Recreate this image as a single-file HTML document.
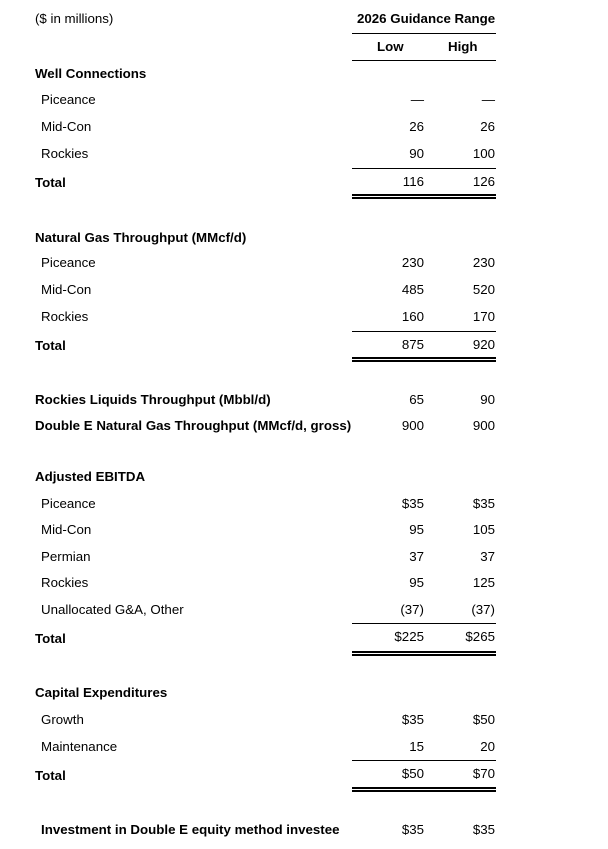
<!DOCTYPE html>
<html><head><meta charset="utf-8"><style>
body{margin:0;width:608px;height:849px;background:#fff;font-family:"Liberation Sans",Arial,sans-serif;font-size:13.3px;color:#000;position:relative;overflow:hidden}
.t{position:absolute;line-height:16px;white-space:nowrap}
.l{left:35px}.s{left:41px}.b{font-weight:bold}
.lo{right:184px;text-align:right}.hi{right:113px;text-align:right}
.ln{position:absolute;left:352px;width:144px;height:1px;background:#000}
.dl{position:absolute;left:352px;width:144px;height:2px;background:#000}
</style></head><body>
<div class="t" style="left:35px;top:11px">($ in millions)</div>
<div class="t b" style="left:357px;top:11px">2026 Guidance Range</div>
<div class="ln" style="top:33px"></div>
<div class="t b" style="left:377px;top:39px">Low</div>
<div class="t b" style="left:448px;top:39px">High</div>
<div class="ln" style="top:60px"></div>

<div class="t l b" style="top:66px">Well Connections</div>
<div class="t s" style="top:92px">Piceance</div><div class="t lo" style="top:92px">—</div><div class="t hi" style="top:92px">—</div>
<div class="t s" style="top:119px">Mid-Con</div><div class="t lo" style="top:119px">26</div><div class="t hi" style="top:119px">26</div>
<div class="t s" style="top:146px">Rockies</div><div class="t lo" style="top:146px">90</div><div class="t hi" style="top:146px">100</div>
<div class="ln" style="top:168px"></div>
<div class="t l b" style="top:175px">Total</div><div class="t lo" style="top:174px">116</div><div class="t hi" style="top:174px">126</div>
<div class="dl" style="top:194px"></div><div class="dl" style="top:197px"></div>

<div class="t l b" style="top:230px">Natural Gas Throughput (MMcf/d)</div>
<div class="t s" style="top:255px">Piceance</div><div class="t lo" style="top:255px">230</div><div class="t hi" style="top:255px">230</div>
<div class="t s" style="top:282px">Mid-Con</div><div class="t lo" style="top:282px">485</div><div class="t hi" style="top:282px">520</div>
<div class="t s" style="top:309px">Rockies</div><div class="t lo" style="top:309px">160</div><div class="t hi" style="top:309px">170</div>
<div class="ln" style="top:331px"></div>
<div class="t l b" style="top:338px">Total</div><div class="t lo" style="top:337px">875</div><div class="t hi" style="top:337px">920</div>
<div class="dl" style="top:357px"></div><div class="dl" style="top:360px"></div>

<div class="t l b" style="top:392px">Rockies Liquids Throughput (Mbbl/d)</div><div class="t lo" style="top:392px">65</div><div class="t hi" style="top:392px">90</div>
<div class="t l b" style="top:418px">Double E Natural Gas Throughput (MMcf/d, gross)</div><div class="t lo" style="top:418px">900</div><div class="t hi" style="top:418px">900</div>

<div class="t l b" style="top:469px">Adjusted EBITDA</div>
<div class="t s" style="top:496px">Piceance</div><div class="t lo" style="top:496px">$35</div><div class="t hi" style="top:496px">$35</div>
<div class="t s" style="top:522px">Mid-Con</div><div class="t lo" style="top:522px">95</div><div class="t hi" style="top:522px">105</div>
<div class="t s" style="top:549px">Permian</div><div class="t lo" style="top:549px">37</div><div class="t hi" style="top:549px">37</div>
<div class="t s" style="top:575px">Rockies</div><div class="t lo" style="top:575px">95</div><div class="t hi" style="top:575px">125</div>
<div class="t s" style="top:602px">Unallocated G&amp;A, Other</div><div class="t lo" style="top:602px">(37)</div><div class="t hi" style="top:602px">(37)</div>
<div class="ln" style="top:623px"></div>
<div class="t l b" style="top:631px">Total</div><div class="t lo" style="top:629px">$225</div><div class="t hi" style="top:629px">$265</div>
<div class="dl" style="top:651px"></div><div class="dl" style="top:654px"></div>

<div class="t l b" style="top:685px">Capital Expenditures</div>
<div class="t s" style="top:712px">Growth</div><div class="t lo" style="top:712px">$35</div><div class="t hi" style="top:712px">$50</div>
<div class="t s" style="top:739px">Maintenance</div><div class="t lo" style="top:739px">15</div><div class="t hi" style="top:739px">20</div>
<div class="ln" style="top:760px"></div>
<div class="t l b" style="top:768px">Total</div><div class="t lo" style="top:766px">$50</div><div class="t hi" style="top:766px">$70</div>
<div class="dl" style="top:787px"></div><div class="dl" style="top:790px"></div>

<div class="t b" style="left:41px;top:822px">Investment in Double E equity method investee</div><div class="t lo" style="top:822px">$35</div><div class="t hi" style="top:822px">$35</div>
</body></html>
